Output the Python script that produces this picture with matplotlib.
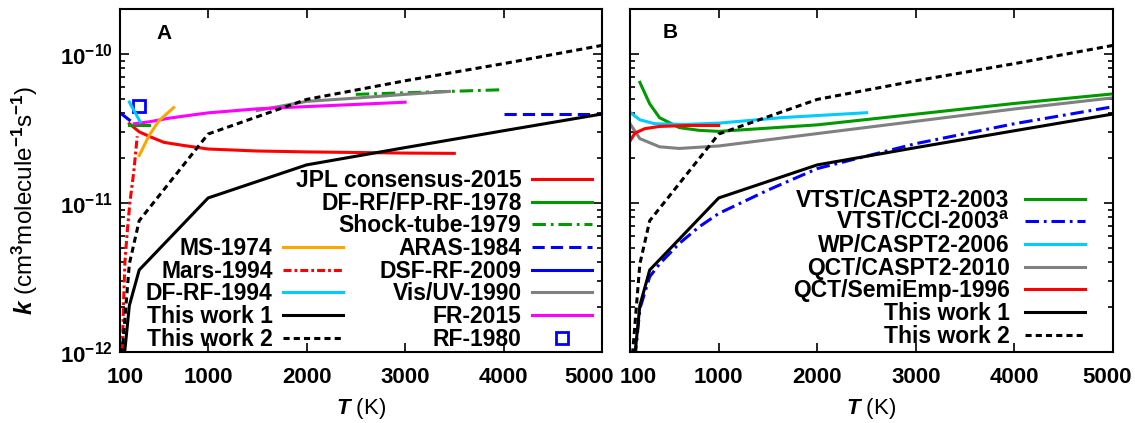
import matplotlib
matplotlib.use("Agg")
import matplotlib.pyplot as plt
from matplotlib.ticker import NullLocator, NullFormatter, FixedLocator, LogFormatterSciNotation
from matplotlib.transforms import ScaledTranslation

plt.rcParams['font.family'] = ['Liberation Sans', 'DejaVu Sans']
plt.rcParams['font.weight'] = 'bold'
plt.rcParams['mathtext.fontset'] = 'custom'
plt.rcParams['mathtext.rm'] = 'Liberation Sans:bold'
plt.rcParams['mathtext.it'] = 'Liberation Sans:italic:bold'
plt.rcParams['mathtext.bf'] = 'Liberation Sans:bold'

# ---------------- data: rate constants k(T) in cm^3 molecule^-1 s^-1 ----------------
# This work
T_work = [100, 200, 300, 1000, 2000, 3000, 4000, 5000]
k_work1 = [4.5e-13, 2.05e-12, 3.55e-12, 1.08e-11, 1.8e-11, 2.35e-11, 3.05e-11, 3.95e-11]
k_work2 = [6.0e-13, 3.9e-12, 7.6e-12, 2.9e-11, 4.95e-11, 6.6e-11, 8.6e-11, 1.14e-10]

# Panel A: experimental / evaluated data
T_jpl = [200, 300, 400, 550, 750, 1000, 1500, 2000, 2500, 3000, 3500]
k_jpl = [3.4e-11, 3.0e-11, 2.8e-11, 2.55e-11, 2.43e-11, 2.3e-11, 2.23e-11, 2.2e-11, 2.18e-11, 2.16e-11, 2.15e-11]
T_dffp78 = [200, 400]
k_dffp78 = [3.35e-11, 3.35e-11]
T_shock79 = [2500, 4000]
k_shock79 = [5.35e-11, 5.75e-11]
T_aras84 = [4000, 5000]
k_aras84 = [3.98e-11, 3.98e-11]
T_dsf09 = [100, 200]
k_dsf09 = [4.05e-11, 3.6e-11]
T_visuv90 = [1500, 2000, 2500, 3000, 3450]
k_visuv90 = [4.17e-11, 4.8e-11, 5.05e-11, 5.35e-11, 5.6e-11]
T_fr15 = [250, 400, 600, 800, 1000, 1500, 2000, 2500, 3000]
k_fr15 = [3.4e-11, 3.5e-11, 3.7e-11, 3.86e-11, 4.02e-11, 4.28e-11, 4.43e-11, 4.58e-11, 4.74e-11]
T_rf80 = [300]
k_rf80 = [4.45e-11]
T_ms74 = [300, 400, 500, 650]
k_ms74 = [2.08e-11, 2.83e-11, 3.56e-11, 4.36e-11]
T_mars94 = [125, 140, 155, 175, 205, 245, 280]
k_mars94 = [8.0e-13, 2.0e-12, 4.0e-12, 6.0e-12, 1.0e-11, 1.62e-11, 2.8e-11]
T_dfrf94 = [200, 310]
k_dfrf94 = [4.75e-11, 3.5e-11]

# Panel B: theoretical data
T_vtst_caspt2 = [200, 300, 400, 600, 800, 1000, 2000, 3000, 4000, 5000]
k_vtst_caspt2 = [6.44e-11, 4.62e-11, 3.73e-11, 3.2e-11, 3.07e-11, 3.02e-11, 3.34e-11, 3.94e-11, 4.65e-11, 5.39e-11]
T_vtst_cci = [150, 200, 300, 400, 600, 800, 1000, 1500, 2000, 3000, 4000, 5000]
k_vtst_cci = [9.0e-13, 1.95e-12, 3.2e-12, 3.9e-12, 5.35e-12, 6.9e-12, 8.5e-12, 1.22e-11, 1.7e-11, 2.5e-11, 3.4e-11, 4.42e-11]
T_wp06 = [100, 200, 350, 650, 1000, 1650, 2500]
k_wp06 = [4.06e-11, 3.61e-11, 3.4e-11, 3.36e-11, 3.43e-11, 3.74e-11, 4.03e-11]
T_qct10 = [100, 200, 400, 600, 1000, 2000, 3000, 4000, 5000]
k_qct10 = [3.4e-11, 2.7e-11, 2.38e-11, 2.32e-11, 2.41e-11, 2.92e-11, 3.53e-11, 4.27e-11, 5.07e-11]
T_semi96 = [100, 150, 250, 400, 700, 1000]
k_semi96 = [2.6e-11, 2.94e-11, 3.15e-11, 3.26e-11, 3.31e-11, 3.31e-11]

x_ticks = [100, 1000, 2000, 3000, 4000, 5000]
x_ticklabels = ['100', '1000', '2000', '3000', '4000', '5000']
y_major = [1e-12, 1e-11, 1e-10]
y_minor = [m * 10.0 ** e for e in (-12, -11, -10) for m in range(2, 10) if m * 10.0 ** e <= 2e-10]

# ---------------- styles ----------------
LW = 2.2
RED, GREEN, BLUE = '#ff0000', '#009a00', '#0000ff'
CYAN, GRAY, MAGENTA, ORANGE = '#00ccff', '#808080', '#ff00ff', '#ffa500'
DASH = (0, (2.0, 1.35))
DASHDOT_SHORT = (0, (2.6, 1.0, 0.9, 1.0))
DASHDOT_LONG = (0, (4.4, 1.6, 0.9, 1.6))
LONGDASH = (0, (4.0, 2.0))

W, H = 1135, 423
fig = plt.figure(figsize=(W / 100, H / 100), dpi=100)
axA = fig.add_axes([119.5 / W, (H - 352) / H, 482.5 / W, 343 / H])
axB = fig.add_axes([630 / W, (H - 352) / H, 483 / W, 343 / H])

TICK_FS = 16
LEG_FS = 16.5


def nudge(label, dx_px):
    label.set_transform(label.get_transform() + ScaledTranslation(dx_px / 100, 0, fig.dpi_scale_trans))


def style_axes(ax, ylabels=True, first_dx=7, last_dx=-7):
    ax.set_yscale('log')
    ax.set_xlim(100, 5000)
    ax.set_ylim(1e-12, 2e-10)
    ax.set_xticks(x_ticks, labels=x_ticklabels)
    ax.xaxis.set_minor_locator(NullLocator())
    ax.yaxis.set_major_locator(FixedLocator(y_major))
    ax.yaxis.set_major_formatter(LogFormatterSciNotation())
    ax.yaxis.set_minor_locator(FixedLocator(y_minor))
    ax.yaxis.set_minor_formatter(NullFormatter())
    ax.tick_params(which='both', direction='in', top=True, right=True, width=1.2)
    ax.tick_params(which='major', length=6.5, labelsize=TICK_FS)
    ax.tick_params(which='minor', length=3.5)
    ax.tick_params(axis='x', pad=10.5)
    ax.tick_params(axis='y', pad=5)
    if not ylabels:
        ax.tick_params(axis='y', labelleft=False)
    for sp in ax.spines.values():
        sp.set_linewidth(1.5)
    ax.set_xlabel(r'$\mathit{T}$ (K)', fontsize=16, labelpad=6)
    # the end tick labels sit a little inside the frame
    labels = ax.get_xticklabels()
    nudge(labels[0], first_dx)
    nudge(labels[-1], last_dx)


style_axes(axA, first_dx=6, last_dx=-13)
style_axes(axB, ylabels=False, first_dx=8, last_dx=-6)

# ---------------- panel A ----------------
hA_right = []
hA_right += axA.plot(T_jpl, k_jpl, color=RED, lw=LW, label='JPL consensus-2015')
hA_right += axA.plot(T_dffp78, k_dffp78, color=GREEN, lw=LW, label='DF-RF/FP-RF-1978')
hA_right += axA.plot(T_shock79, k_shock79, color=GREEN, lw=LW, ls=DASHDOT_LONG, label='Shock-tube-1979')
hA_right += axA.plot(T_aras84, k_aras84, color=BLUE, lw=LW, ls=LONGDASH, label='ARAS-1984')
hA_right += axA.plot(T_dsf09, k_dsf09, color=BLUE, lw=LW, label='DSF-RF-2009')
hA_right += axA.plot(T_visuv90, k_visuv90, color=GRAY, lw=LW, label='Vis/UV-1990')
hA_right += axA.plot(T_fr15, k_fr15, color=MAGENTA, lw=LW, label='FR-2015')
hA_right += axA.plot(T_rf80, k_rf80, ls='none', marker='s', ms=8, mfc='none',
                     mec=BLUE, mew=2.0, label='RF-1980')

hA_left = []
hA_left += axA.plot(T_ms74, k_ms74, color=ORANGE, lw=LW, label='MS-1974')
hA_left += axA.plot(T_mars94, k_mars94, color=RED, lw=LW, ls=DASHDOT_SHORT, label='Mars-1994')
hA_left += axA.plot(T_dfrf94, k_dfrf94, color=CYAN, lw=LW, label='DF-RF-1994')
hA_left += axA.plot(T_work, k_work1, color='black', lw=LW, label='This work 1')
hA_left += axA.plot(T_work, k_work2, color='black', lw=LW, ls=DASH, label='This work 2')

# ---------------- panel B ----------------
hB = []
hB += axB.plot(T_vtst_caspt2, k_vtst_caspt2, color=GREEN, lw=LW, label='VTST/CASPT2-2003')
hB += axB.plot(T_vtst_cci, k_vtst_cci, color=BLUE, lw=LW, ls=DASHDOT_LONG,
               label=r'VTST/CCI-2003$^{\mathrm{a}}$')
hB += axB.plot(T_wp06, k_wp06, color=CYAN, lw=LW, label='WP/CASPT2-2006')
hB += axB.plot(T_qct10, k_qct10, color=GRAY, lw=LW, label='QCT/CASPT2-2010')
hB += axB.plot(T_semi96, k_semi96, color=RED, lw=LW, label='QCT/SemiEmp-1996')
hB += axB.plot(T_work, k_work1, color='black', lw=LW, label='This work 1')
hB += axB.plot(T_work, k_work2, color='black', lw=LW, ls=DASH, label='This work 2')


def make_legend(ax, handles, anchor, textpad):
    return ax.legend(handles=handles, loc='lower right', bbox_to_anchor=anchor,
                     bbox_transform=ax.transAxes, frameon=False, markerfirst=False,
                     prop={'size': LEG_FS, 'weight': 'bold'}, handlelength=2.63,
                     handletextpad=textpad, labelspacing=-0.015, borderpad=0,
                     borderaxespad=0, numpoints=1)


legA_right = make_legend(axA, hA_right, (0.979, 0.004), 0.44)
axA.add_artist(legA_right)
make_legend(axA, hA_left, (0.463, 0.004), 0.44)
make_legend(axB, hB, (0.942, 0.0125), 0.66)

# panel tags
axA.text(0.092, 0.93, 'A', transform=axA.transAxes, ha='center', va='center',
         fontsize=15, fontweight='bold')
axB.text(0.083, 0.932, 'B', transform=axB.transAxes, ha='center', va='center',
         fontsize=15, fontweight='bold')

axA.set_ylabel(r'$\mathit{k}$ (cm$^{\mathrm{3}}$molecule$^{\mathrm{-1}}$s$^{\mathrm{-1}}$)',
               fontsize=17.5, ha='center', va='center')
axA.yaxis.set_label_coords(-0.196, 0.443)

fig.savefig('out.png', dpi=100)
